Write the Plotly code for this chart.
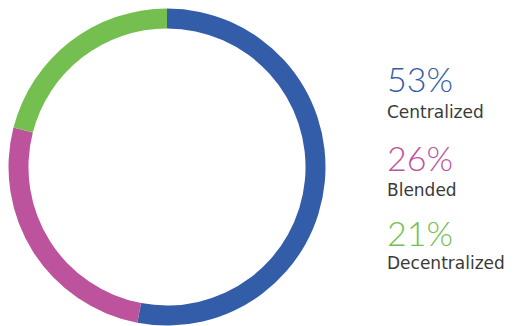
import plotly.graph_objects as go

# Share of organisations by operating model
labels = ["Centralized", "Blended", "Decentralized"]
values = [53, 26, 21]
colors = ["#335DA8", "#BD539D", "#75BF50"]

W, H = 514, 326

fig = go.Figure(
    go.Pie(
        labels=labels,
        values=values,
        hole=0.874,
        sort=False,
        direction="clockwise",
        rotation=0,
        marker=dict(colors=colors, line=dict(width=0)),
        textinfo="none",
        hoverinfo="label+percent",
        domain=dict(x=[8.5 / W, 325.5 / W], y=[0.5 / H, 317.5 / H]),
        showlegend=False,
    )
)

# Legend-like labels on the right: percentage above its category name
pct_y = [79, 157, 232]
name_y = [112, 190, 263]
annotations = []
for lab, val, col, py, ny in zip(labels, values, colors, pct_y, name_y):
    annotations.append(dict(
        x=385 / W, y=1 - py / H, xref="paper", yref="paper",
        xanchor="left", yanchor="middle", showarrow=False,
        text=f"{val}%",
        font=dict(family="Lato", size=34, color=col, weight=300),
    ))
    annotations.append(dict(
        x=385 / W, y=1 - ny / H, xref="paper", yref="paper",
        xanchor="left", yanchor="middle", showarrow=False,
        text=lab,
        font=dict(family="DejaVu Sans", size=17, color="#3a3a3a", weight=400),
    ))

fig.update_layout(
    width=W, height=H,
    margin=dict(l=0, r=0, t=0, b=0),
    paper_bgcolor="white",
    plot_bgcolor="white",
    annotations=annotations,
)

fig.write_html("out.html")
